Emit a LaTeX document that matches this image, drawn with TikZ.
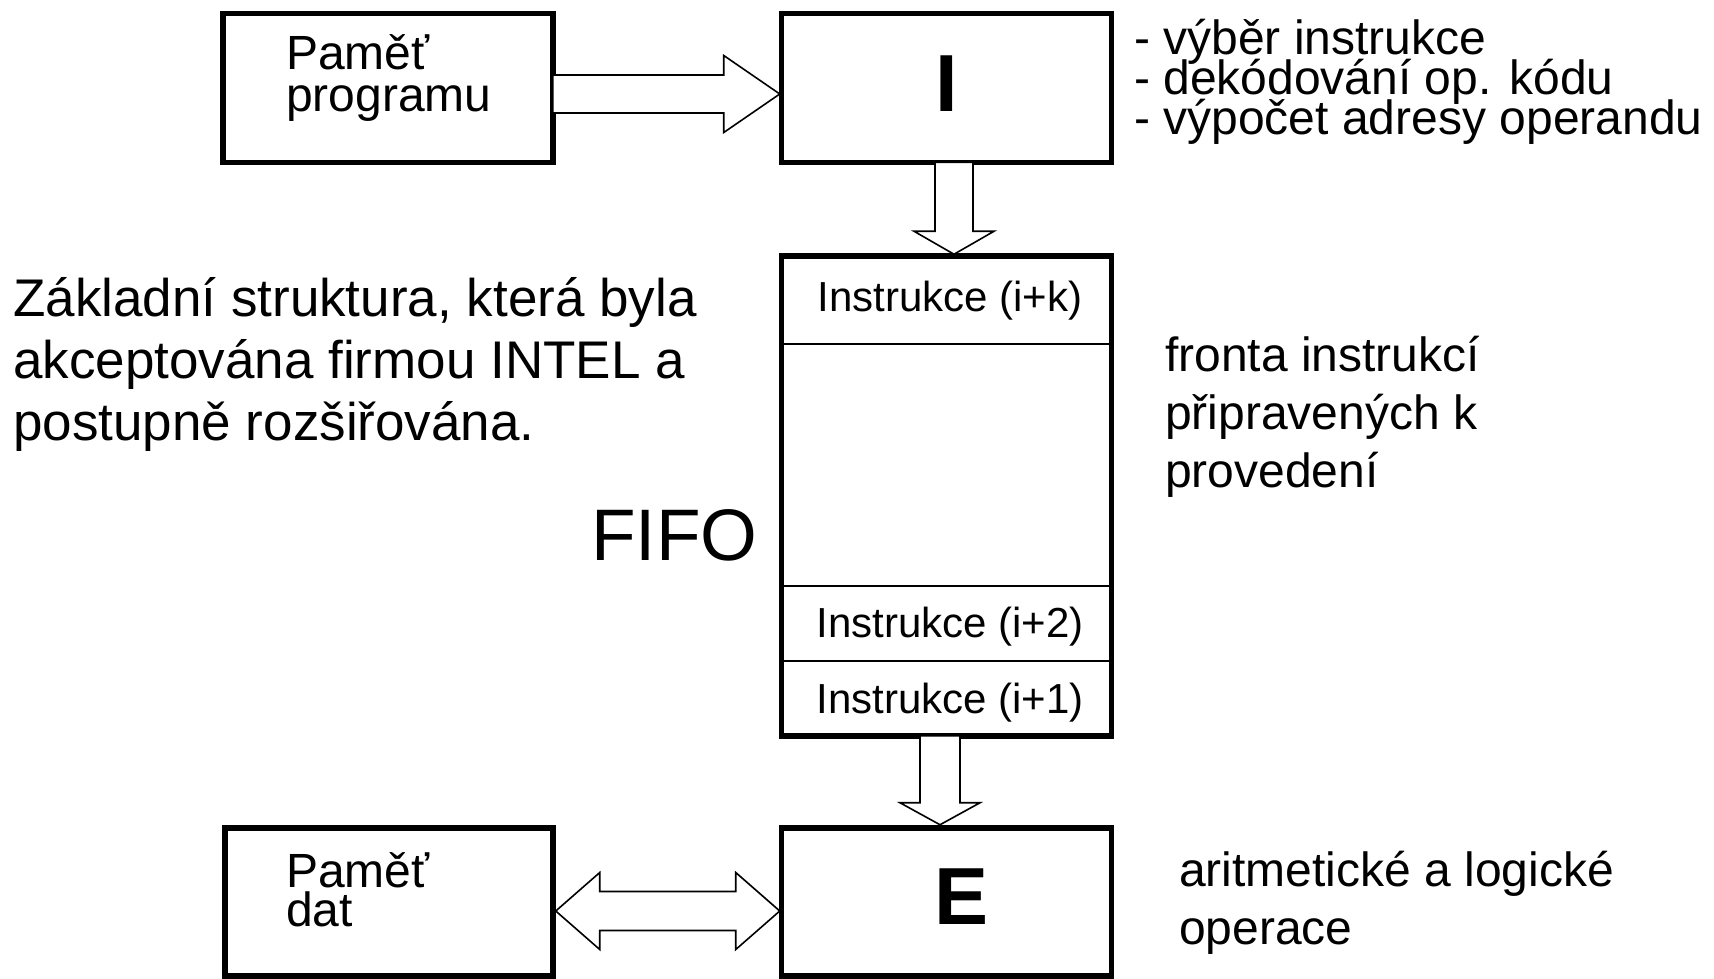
\documentclass[tikz,border=0pt]{standalone}
\usepackage{fontspec}
\setmainfont{Liberation Sans}
\usetikzlibrary{calc}
\begin{document}
\begin{tikzpicture}[x=1pt,y=-1pt,
  box/.style={draw, line width=5.5pt, inner sep=0pt, minimum width=330pt, minimum height=149pt},
  barrow/.style={draw, line width=1.6pt, fill=white, line join=miter},
  divider/.style={line width=2pt},
  lbl/.style={anchor=base west, inner sep=0pt, font=\fontsize{48}{48}\selectfont},
  big/.style={anchor=base west, inner sep=0pt, font=\fontsize{53}{53}\selectfont},
  ins/.style={anchor=base, inner sep=0pt, font=\fontsize{42}{42}\selectfont},
  letter/.style={inner sep=0pt, font=\fontsize{81}{81}\selectfont\bfseries}]
\useasboundingbox (0,0) rectangle (1714,979);

% boxes
\node[box] (pp) at (388,88) {};
\node[box] (I) at (946.5,88) {};
\node[box, minimum height=480pt] (fifo) at (946.5,496) {};
\node[box, minimum width=328pt, minimum height=148pt] (pd) at (389,902) {};
\node[box, minimum height=148pt] (E) at (946.5,902) {};

% fifo dividers
\draw[divider] (fifo.west |- 0,344) -- (fifo.east |- 0,344);
\draw[divider] (fifo.west |- 0,586) -- (fifo.east |- 0,586);
\draw[divider] (fifo.west |- 0,661) -- (fifo.east |- 0,661);

% block arrows
\draw[barrow] ($(pp.east)+(-3,6)$) ++(0,-19) -- ++(171,0) -- ++(0,-19.5) -- ++(56,38.5)
  -- ++(-56,38.5) -- ++(0,-19.5) -- ++(-171,0) -- cycle;
\draw[barrow] ($(I.south)+(7.5,-3)$) ++(-19,0) -- ++(0,69) -- ++(-21,0) -- ++(40,23)
  -- ++(40,-23) -- ++(-21,0) -- ++(0,-69) -- cycle;
\draw[barrow] ($(fifo.south)+(-6.5,-3)$) ++(-20,0) -- ++(0,67) -- ++(-20,0) -- ++(40,22)
  -- ++(40,-22) -- ++(-20,0) -- ++(0,-67) -- cycle;
\draw[barrow] ($(pd.east)+(0,9)$) -- ++(44,-38.5) -- ++(0,19) -- ++(136,0) -- ++(0,-19)
  -- ++(44,38.5) -- ++(-44,38.5) -- ++(0,-19) -- ++(-136,0) -- ++(0,19) -- cycle;

% box texts
\node[lbl] (pp1) at (286,70) {Paměť};
\node[lbl] (pp2) at (286,112) {programu};
\node[lbl] (pd1) at (286,887) {Paměť};
\node[lbl] (pd2) at (286,926) {dat};
\node[letter] (Il) at (946.5,84) {I};
\node[letter] (El) at (962,897) {E};
\node[ins] (ik) at (950,311) {Instrukce (i+k)};
\node[ins] (i2) at (950,637) {Instrukce (i+2)};
\node[ins] (i1) at (950,713) {Instrukce (i+1)};
\node[anchor=base west, inner sep=0pt, font=\fontsize{73}{73}\selectfont] (fifol) at (591,560) {FIFO};

% side texts
\node[lbl] (b1) at (1134,55) {- výběr instrukce};
\node[lbl] (b2) at (1134,95) {- dekódování op. kódu};
\node[lbl] (b3) at (1134,135) {- výpočet adresy operandu};

\node[big] (z1) at (13,316) {Základní struktura, která byla};
\node[big] (z2) at (13,378) {akceptována firmou INTEL a};
\node[big] (z3) at (13,440) {postupně rozšiřována.};

\node[lbl] (f1) at (1165,371) {fronta instrukcí};
\node[lbl] (f2) at (1165,429) {připravených k};
\node[lbl] (f3) at (1165,487) {provedení};

\node[lbl] (a1) at (1179,886) {aritmetické a logické};
\node[lbl] (a2) at (1179,944) {operace};
\end{tikzpicture}
\end{document}
